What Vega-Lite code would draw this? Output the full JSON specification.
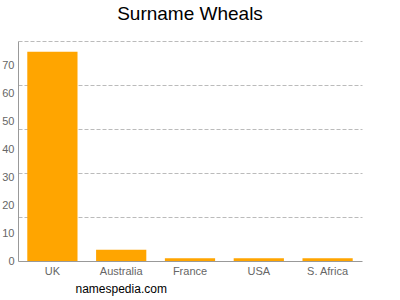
{
  "$schema": "https://vega.github.io/schema/vega-lite/v6.json",
  "autosize": "none",
  "width": 344,
  "height": 220,
  "padding": {"left": 18, "top": 41, "right": 38, "bottom": 39},
  "background": "white",
  "title": {
    "text": "Surname Wheals",
    "fontSize": 19,
    "font": "Liberation Sans",
    "fontWeight": "normal",
    "color": "#000000",
    "anchor": "middle",
    "offset": 11
  },
  "config": {
    "view": {"stroke": null},
    "font": "Liberation Sans"
  },
  "data": {
    "values": [
      {"country": "UK", "count": 75},
      {"country": "Australia", "count": 4},
      {"country": "France", "count": 1},
      {"country": "USA", "count": 1},
      {"country": "S. Africa", "count": 1}
    ]
  },
  "mark": {"type": "bar", "color": "#FFA500"},
  "encoding": {
    "x": {
      "field": "country",
      "type": "nominal",
      "sort": null,
      "scale": {"paddingInner": 0.27, "paddingOuter": 0.135},
      "axis": {
        "title": "namespedia.com",
        "titleAnchor": "start",
        "titleX": 57,
        "titleY": 31,
        "titleBaseline": "alphabetic",
        "titleFontSize": 12,
        "titleFontWeight": "normal",
        "titleColor": "#000000",
        "labelAngle": 0,
        "labelFontSize": 11,
        "labelColor": "#666666",
        "labelPadding": 4,
        "ticks": false,
        "domainColor": "#999999",
        "grid": false
      }
    },
    "y": {
      "field": "count",
      "type": "quantitative",
      "scale": {"domain": [0, 78.9], "nice": false},
      "axis": {
        "title": null,
        "values": [0, 10, 15.78, 20, 30, 31.56, 40, 47.34, 50, 60, 63.12, 70, 78.9],
        "labelExpr": "datum.value % 10 == 0 ? datum.label : ''",
        "labelOverlap": false,
        "labelFontSize": 11,
        "labelColor": "#666666",
        "labelPadding": 4,
        "ticks": false,
        "domainColor": "#999999",
        "grid": true,
        "gridColor": "#bbbbbb",
        "gridDash": [4, 2],
        "gridWidth": 1,
        "gridOpacity": {"condition": {"test": "datum.value % 10 != 0", "value": 1}, "value": 0}
      }
    }
  }
}
